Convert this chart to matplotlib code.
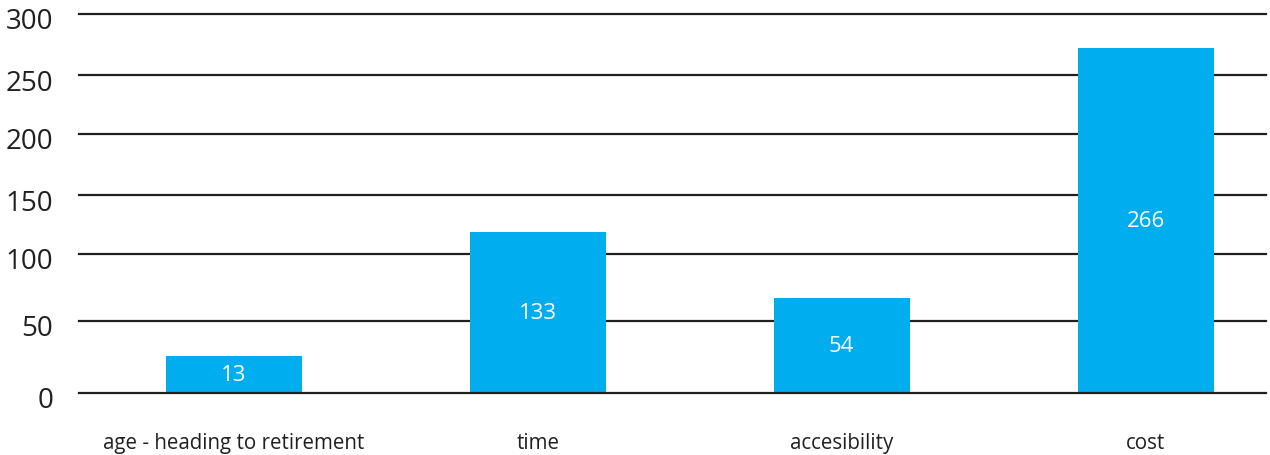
import numpy as np
import matplotlib
matplotlib.use("Agg")
import matplotlib.pyplot as plt
from matplotlib.transforms import ScaledTranslation

# ---- data ----
categories = ["age - heading to retirement", "time", "accesibility", "cost"]
bar_heights = [25.5, 118.7, 67, 272.3]      # bar tops as read against the axis
bar_labels = ["13", "133", "54", "266"]     # numbers printed on the bars
y_ticks = [0, 50, 100, 150, 200, 250, 300]

# ---- styling / layout ----
BAR_COLOR = "#00AEEF"
TEXT_COLOR = "#231F20"
GRID_COLOR = "#231F20"
FONT = ["Open Sans", "DejaVu Sans"]
# the reference axis is not evenly spaced: pixel height of each tick above zero
tick_px = np.array([0, 72, 138.7, 197.4, 258.7, 317.4, 378.7])
tick_vals = np.array(y_ticks, dtype=float)


def _interp_ext(x, xp, fp):
    x = np.asarray(x, dtype=float)
    out = np.interp(x, xp, fp)
    lo = x < xp[0]
    hi = x > xp[-1]
    out = np.where(lo, fp[0] + (x - xp[0]) * (fp[1] - fp[0]) / (xp[1] - xp[0]), out)
    out = np.where(hi, fp[-1] + (x - xp[-1]) * (fp[-1] - fp[-2]) / (xp[-1] - xp[-2]), out)
    return out


def fwd(v):
    return _interp_ext(v, tick_vals, tick_px)


def inv(h):
    return _interp_ext(h, tick_px, tick_vals)


plt.rcParams["font.family"] = FONT

W, H = 1270, 456
fig = plt.figure(figsize=(W / 100, H / 100), dpi=100)
left_px, right_px = 79, 1266
top_px, bottom_px = 15, 393.7
ax = fig.add_axes([left_px / W, (H - bottom_px) / H,
                   (right_px - left_px) / W, (bottom_px - top_px) / H])

ax.set_yscale("function", functions=(fwd, inv))
ax.set_ylim(0, 300)

x = np.arange(len(categories))
bars = ax.bar(x, bar_heights, width=0.447, color=BAR_COLOR, zorder=2)
ax.set_xlim(-0.51, 3.396)

# horizontal rules
for v in y_ticks:
    ax.axhline(v, color=GRID_COLOR, lw=1.6, clip_on=False,
               zorder=3 if v == 0 else 1)

ax.set_yticks(y_ticks)
ax.set_yticklabels([str(v) for v in y_ticks])
ax.set_xticks(x)
ax.set_xticklabels(categories)
ax.tick_params(axis="y", length=0, pad=18.5, labelsize=20, labelcolor=TEXT_COLOR)
ax.tick_params(axis="x", length=0, pad=28.5, labelsize=14.8, labelcolor=TEXT_COLOR)

off = ScaledTranslation(0, -4 / 100, fig.dpi_scale_trans)
for lab in ax.get_yticklabels():
    lab.set_transform(lab.get_transform() + off)

for s in ax.spines.values():
    s.set_visible(False)

ax.bar_label(bars, labels=bar_labels, label_type="center", color="white",
             fontsize=16, zorder=4)

fig.savefig("out.png", dpi=100)
